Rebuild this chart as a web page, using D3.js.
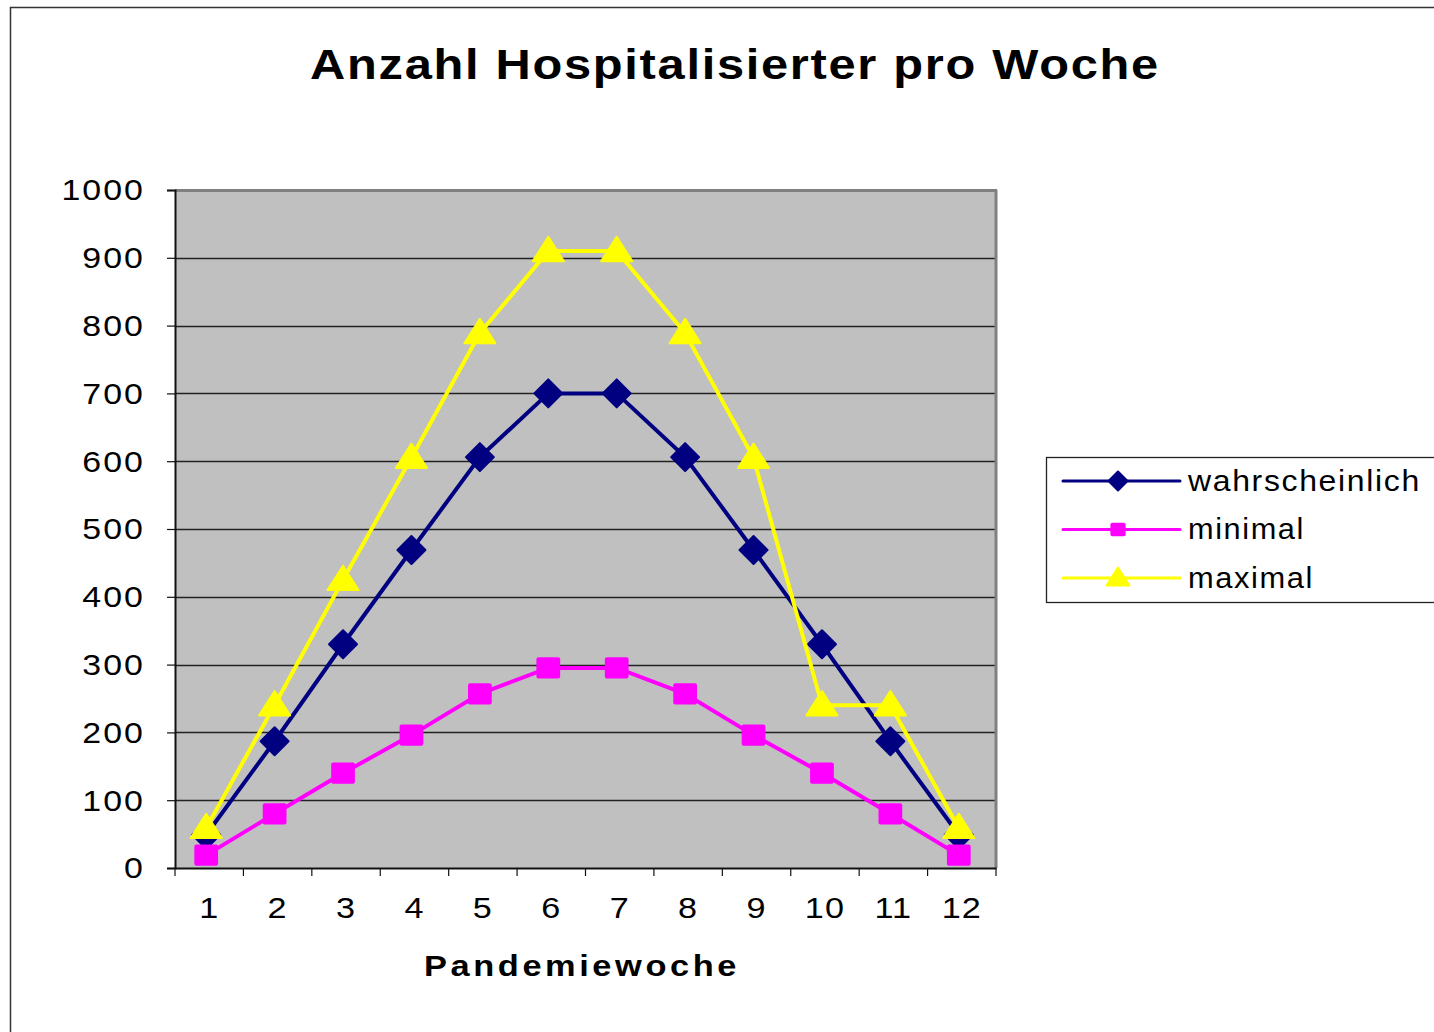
<!DOCTYPE html>
<html><head><meta charset="utf-8">
<script src="https://cdn.jsdelivr.net/npm/d3@7"></script>
<style>body{margin:0;background:#fff}svg{display:block;font-family:"Liberation Sans",Arial,sans-serif}</style>
</head><body>
<svg id="c" width="1434" height="1032"></svg>
<script>
const weeks = ["1","2","3","4","5","6","7","8","9","10","11","12"];
const wahrscheinlich = [49,187,330,469,606,700,700,606,469,330,187,49];
const minimal = [19,80,140,196,257,295,295,257,196,140,80,19];
const maximal = [59,240,425,605,789,910,910,789,605,240,240,59];
const yTicks = [0,100,200,300,400,500,600,700,800,900,1000];
const seriesNames = ["wahrscheinlich","minimal","maximal"];
const seriesColors = ["#000080","#FF00FF","#FFFF00"];
const title = "Anzahl Hospitalisierter pro Woche";
const xTitle = "Pandemiewoche";

const svg = d3.select("#c");
svg.append("rect").attr("x",10.5).attr("y",7.5).attr("width",1440).attr("height",1040)
  .attr("fill","#fff").attr("stroke","#333").attr("stroke-width",1.5);

const L=175, R=996, T=190, B=868;
const x = d3.scaleBand().domain(weeks).range([L,R]);
const y = d3.scaleLinear().domain([0,1000]).range([B,T]);

function fit(sel, cxp, target){
  const w = sel.node().getBBox().width;
  const s = target / w;
  sel.attr("transform",`translate(${cxp},0) scale(${s},1) translate(${-cxp},0)`);
}

svg.append("rect").attr("x",L).attr("y",T).attr("width",R-L).attr("height",B-T).attr("fill","#C0C0C0");
svg.append("g").selectAll("line").data(yTicks.filter(d=>d>0 && d<1000)).join("line")
  .attr("x1",L).attr("x2",R).attr("y1",d=>Math.round(y(d))+0.5).attr("y2",d=>Math.round(y(d))+0.5)
  .attr("stroke","#222").attr("stroke-width",1.3);
svg.append("line").attr("x1",L).attr("x2",R+1).attr("y1",T+0.5).attr("y2",T+0.5).attr("stroke","#808080").attr("stroke-width",3);
svg.append("line").attr("x1",R).attr("x2",R).attr("y1",T).attr("y2",B).attr("stroke","#808080").attr("stroke-width",3);

const yAxis = d3.axisLeft(y).tickValues(yTicks).tickFormat(d3.format("d")).tickSize(8).tickPadding(0);
const gy = svg.append("g").attr("transform",`translate(${L},0)`).call(yAxis);
gy.select(".domain").attr("stroke","#111").attr("stroke-width",2);
gy.selectAll(".tick line").attr("stroke","#111").attr("stroke-width",1.2);
gy.selectAll("text").attr("font-size",30).attr("fill","#000").attr("letter-spacing","1.8px")
  .attr("font-family","'Liberation Sans',Arial,sans-serif")
  .attr("x",0).attr("dy","0.33em")
  .attr("transform","translate(-30,0) scale(1.13,1)");

const xAxis = d3.axisBottom(x).tickSize(8).tickSizeOuter(0).tickPadding(21);
const gx = svg.append("g").attr("transform",`translate(0,${B})`).call(xAxis);
gx.select(".domain").attr("stroke","#111").attr("stroke-width",2);
gx.selectAll(".tick line").attr("stroke","#111").attr("stroke-width",1.2).attr("transform",`translate(${-x.bandwidth()/2},0)`);
gx.append("line").attr("x1",R).attr("x2",R).attr("y1",0).attr("y2",8).attr("stroke","#111").attr("stroke-width",1.2);
gx.selectAll("text").attr("font-size",30).attr("fill","#000").attr("letter-spacing","1px")
  .attr("font-family","'Liberation Sans',Arial,sans-serif")
  .attr("transform","scale(1.14,1)");

const data = [wahrscheinlich, minimal, maximal];
const cx = d=>x(d)+x.bandwidth()/2 - 3;
const line = d3.line().x((v,i)=>cx(weeks[i])).y(v=>y(v));
function marker(g, k, px, py, s){
  if(k===0){
    g.append("path").attr("d",`M${px},${py-s}L${px+s},${py}L${px},${py+s}L${px-s},${py}Z`).attr("fill",seriesColors[0]).attr("stroke",seriesColors[0]).attr("stroke-linejoin","round").attr("stroke-width",2);
  } else if(k===1){
    g.append("rect").attr("x",px-s*0.95).attr("y",py-s*0.85).attr("width",s*1.9).attr("height",s*1.7).attr("rx",2).attr("fill",seriesColors[1]);
  } else {
    g.append("path").attr("d",`M${px},${py-s*1.05}L${px+s*1.15},${py+s*0.75}L${px-s*1.15},${py+s*0.75}Z`).attr("fill",seriesColors[2]).attr("stroke",seriesColors[2]).attr("stroke-linejoin","round").attr("stroke-width",2);
  }
}
data.forEach((vals,k)=>{
  const g = svg.append("g");
  g.append("path").attr("d",line(vals)).attr("fill","none").attr("stroke",seriesColors[k]).attr("stroke-width",4);
  vals.forEach((v,i)=>marker(g,k,cx(weeks[i]),y(v), k===0?14:(k===1?12.5:13.5)));
});

const tt = svg.append("text").attr("x",735).attr("y",79).attr("text-anchor","middle").attr("font-weight","bold")
  .attr("font-size",43).attr("letter-spacing","1.5px").text(title);
fit(tt,735,850);
const xt = svg.append("text").attr("x",582).attr("y",976).attr("text-anchor","middle").attr("font-weight","bold")
  .attr("font-size",29).attr("letter-spacing","3px").text(xTitle);
fit(xt,582,316);

const lg = svg.append("g");
lg.append("rect").attr("x",1046.5).attr("y",457.5).attr("width",420).attr("height",145).attr("fill","#fff").attr("stroke","#222").attr("stroke-width",1.3);
const lw = [234,117,126];
seriesNames.forEach((n,k)=>{
  const yy = 481 + k*48.5;
  lg.append("line").attr("x1",1063).attr("x2",1180).attr("y1",yy).attr("y2",yy).attr("stroke",seriesColors[k]).attr("stroke-width",3).attr("stroke-linecap","round");
  marker(lg,k,1118,yy,k===0?9.5:(k===1?8:10));
  const t = lg.append("text").attr("x",1188).attr("y",yy+10).attr("font-size",29).attr("letter-spacing","1.5px").text(n);
  fit(t,1188,lw[k]);
});
</script>
</body></html>
